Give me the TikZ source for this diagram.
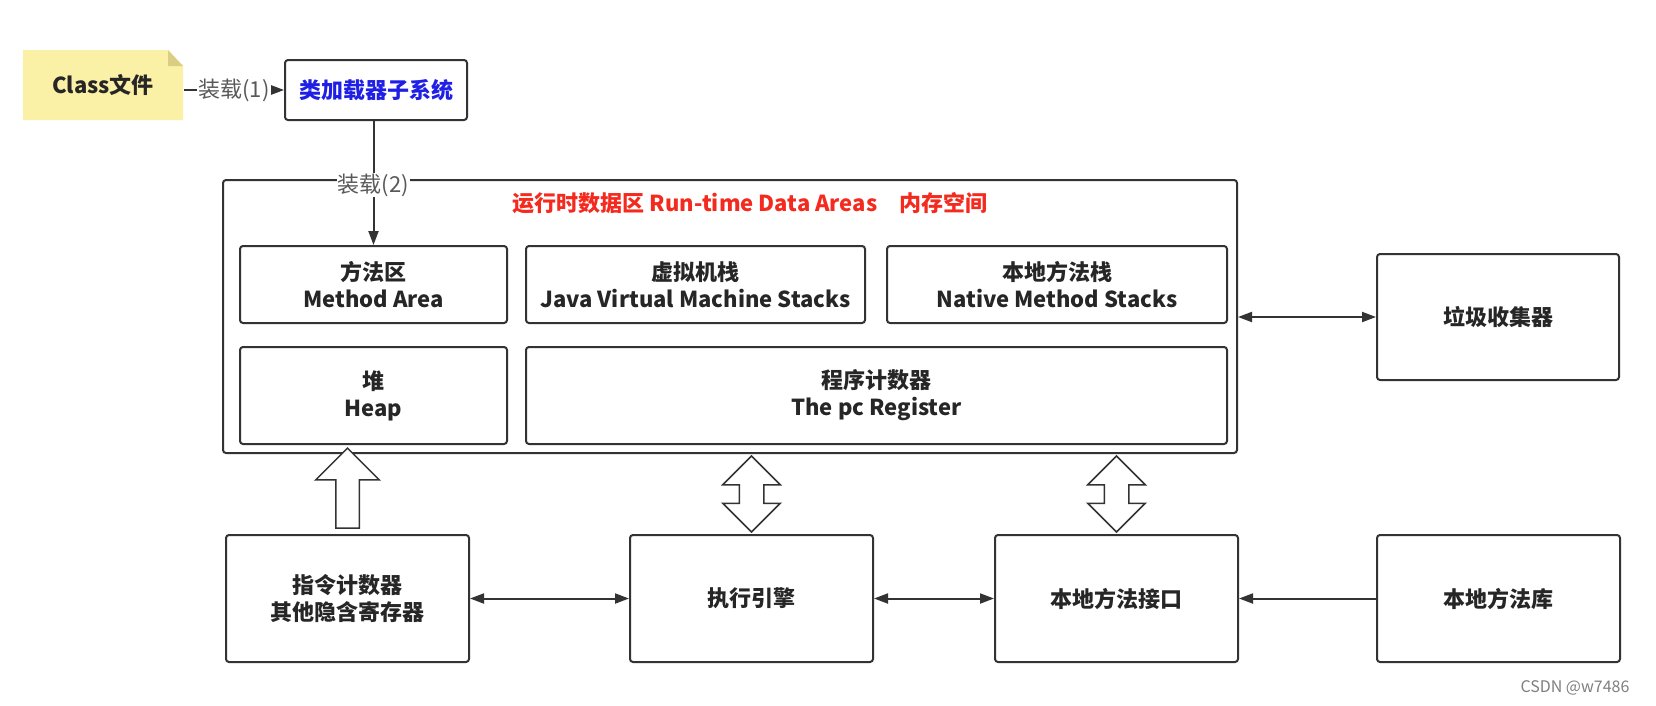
\documentclass[tikz,border=0pt]{standalone}
\usepackage{fontspec}
\setmainfont{Noto Sans CJK SC}
\usetikzlibrary{arrows.meta,shapes.arrows,calc}

\definecolor{linegray}{HTML}{333333}
\definecolor{notefill}{HTML}{FBF1A6}
\definecolor{notefold}{HTML}{D9CE82}
\definecolor{loaderblue}{HTML}{1F1FE6}
\definecolor{titlered}{HTML}{F52A1E}

\tikzset{
  >={Triangle[length=14pt,width=10pt]},
  box/.style={draw=linegray,line width=2pt,rounded corners=3pt,align=center,inner sep=0pt,
    font=\bfseries\fontsize{22}{27}\selectfont,text=black!85},
  link/.style={draw=linegray,line width=2pt},
  lbl/.style={fill=white,inner sep=1pt,font=\fontsize{22}{22}\selectfont,text=black!65},
  fatup/.style={single arrow,draw=linegray,line width=1.5pt,fill=white,shape border rotate=90,
    minimum height=80,single arrow head extend=20,single arrow tip angle=90,inner sep=11pt},
  fatboth/.style={double arrow,draw=linegray,line width=1.5pt,fill=white,shape border rotate=90,
    minimum height=76,double arrow head extend=16.5,double arrow tip angle=90,inner sep=11.5pt}
}

\begin{document}
\begin{tikzpicture}[x=1pt,y=-1pt]
  \useasboundingbox[fill=white] (0,0) rectangle (1656,705);
  % class file note
  \fill[notefill] (23,50) -- (168,50) -- (183,66) -- (183,120) -- (23,120) -- cycle;
  \fill[notefold] (168,50) -- (183,66) -- (168,66) -- cycle;
  \node[box,draw=none,minimum width=160,minimum height=70] (cls) at (103,85) {Class文件};
  \node[box,minimum width=182,minimum height=60,text=loaderblue] (loader) at (376,90) {类加载器子系统};

  % run-time data areas
  \node[box,minimum width=1014,minimum height=273] (rt) at (730,316.5) {};
  \node[font=\bfseries\fontsize{22}{22}\selectfont,text=titlered] (title) at (750,203) {运行时数据区 Run-time Data Areas\quad 内存空间};
  \node[box,minimum width=267,minimum height=77] (mth) at (373.5,284.5) {方法区\\Method Area};
  \node[box,minimum width=339,minimum height=77] (jvms) at (695.5,284.5) {虚拟机栈\\Java Virtual Machine Stacks};
  \node[box,minimum width=340,minimum height=77] (nms) at (1057,284.5) {本地方法栈\\Native Method Stacks};
  \node[box,minimum width=267,minimum height=97] (heap) at (373.5,395.5) {堆\\Heap};
  \node[box,minimum width=701,minimum height=97] (pc) at (876.5,395.5) {程序计数器\\The pc Register};

  % outside boxes
  \node[box,minimum width=242,minimum height=126] (gc) at (1498,317) {垃圾收集器};
  \node[box,minimum width=243,minimum height=127] (zl) at (347.5,598.5) {指令计数器\\其他隐含寄存器};
  \node[box,minimum width=243,minimum height=127] (zx) at (751.5,598.5) {执行引擎};
  \node[box,minimum width=243,minimum height=127] (jk) at (1116.5,598.5) {本地方法接口};
  \node[box,minimum width=243,minimum height=127] (lib) at (1498.5,598.5) {本地方法库};

  % hollow arrows
  \node[fatup] (up1) at ($(zl.north)!0.5!(zl.north|-rt.south)$) {};
  \node[fatboth] (bi1) at ($(zx.north)!0.5!(zx.north|-rt.south)$) {};
  \node[fatboth] (bi2) at ($(jk.north)!0.5!(jk.north|-rt.south)$) {};

  % connectors
  \draw[link,->] (cls.east|-loader.west) -- node[lbl] {装载(1)} (loader.west);
  \draw[link,->] (loader.south-|mth.north) -- node[lbl,pos=0.516] {装载(2)} (mth.north);
  \draw[link,<->] (rt.east|-gc.west) -- (gc.west);
  \draw[link,<->] (zl) -- (zx);
  \draw[link,<->] (zx) -- (jk);
  \draw[link,->] (lib) -- (jk);

  \node[font=\fontsize{16}{16}\selectfont,text=black!50] (wm) at (1575,688) {CSDN @w7486};
\end{tikzpicture}
\end{document}
